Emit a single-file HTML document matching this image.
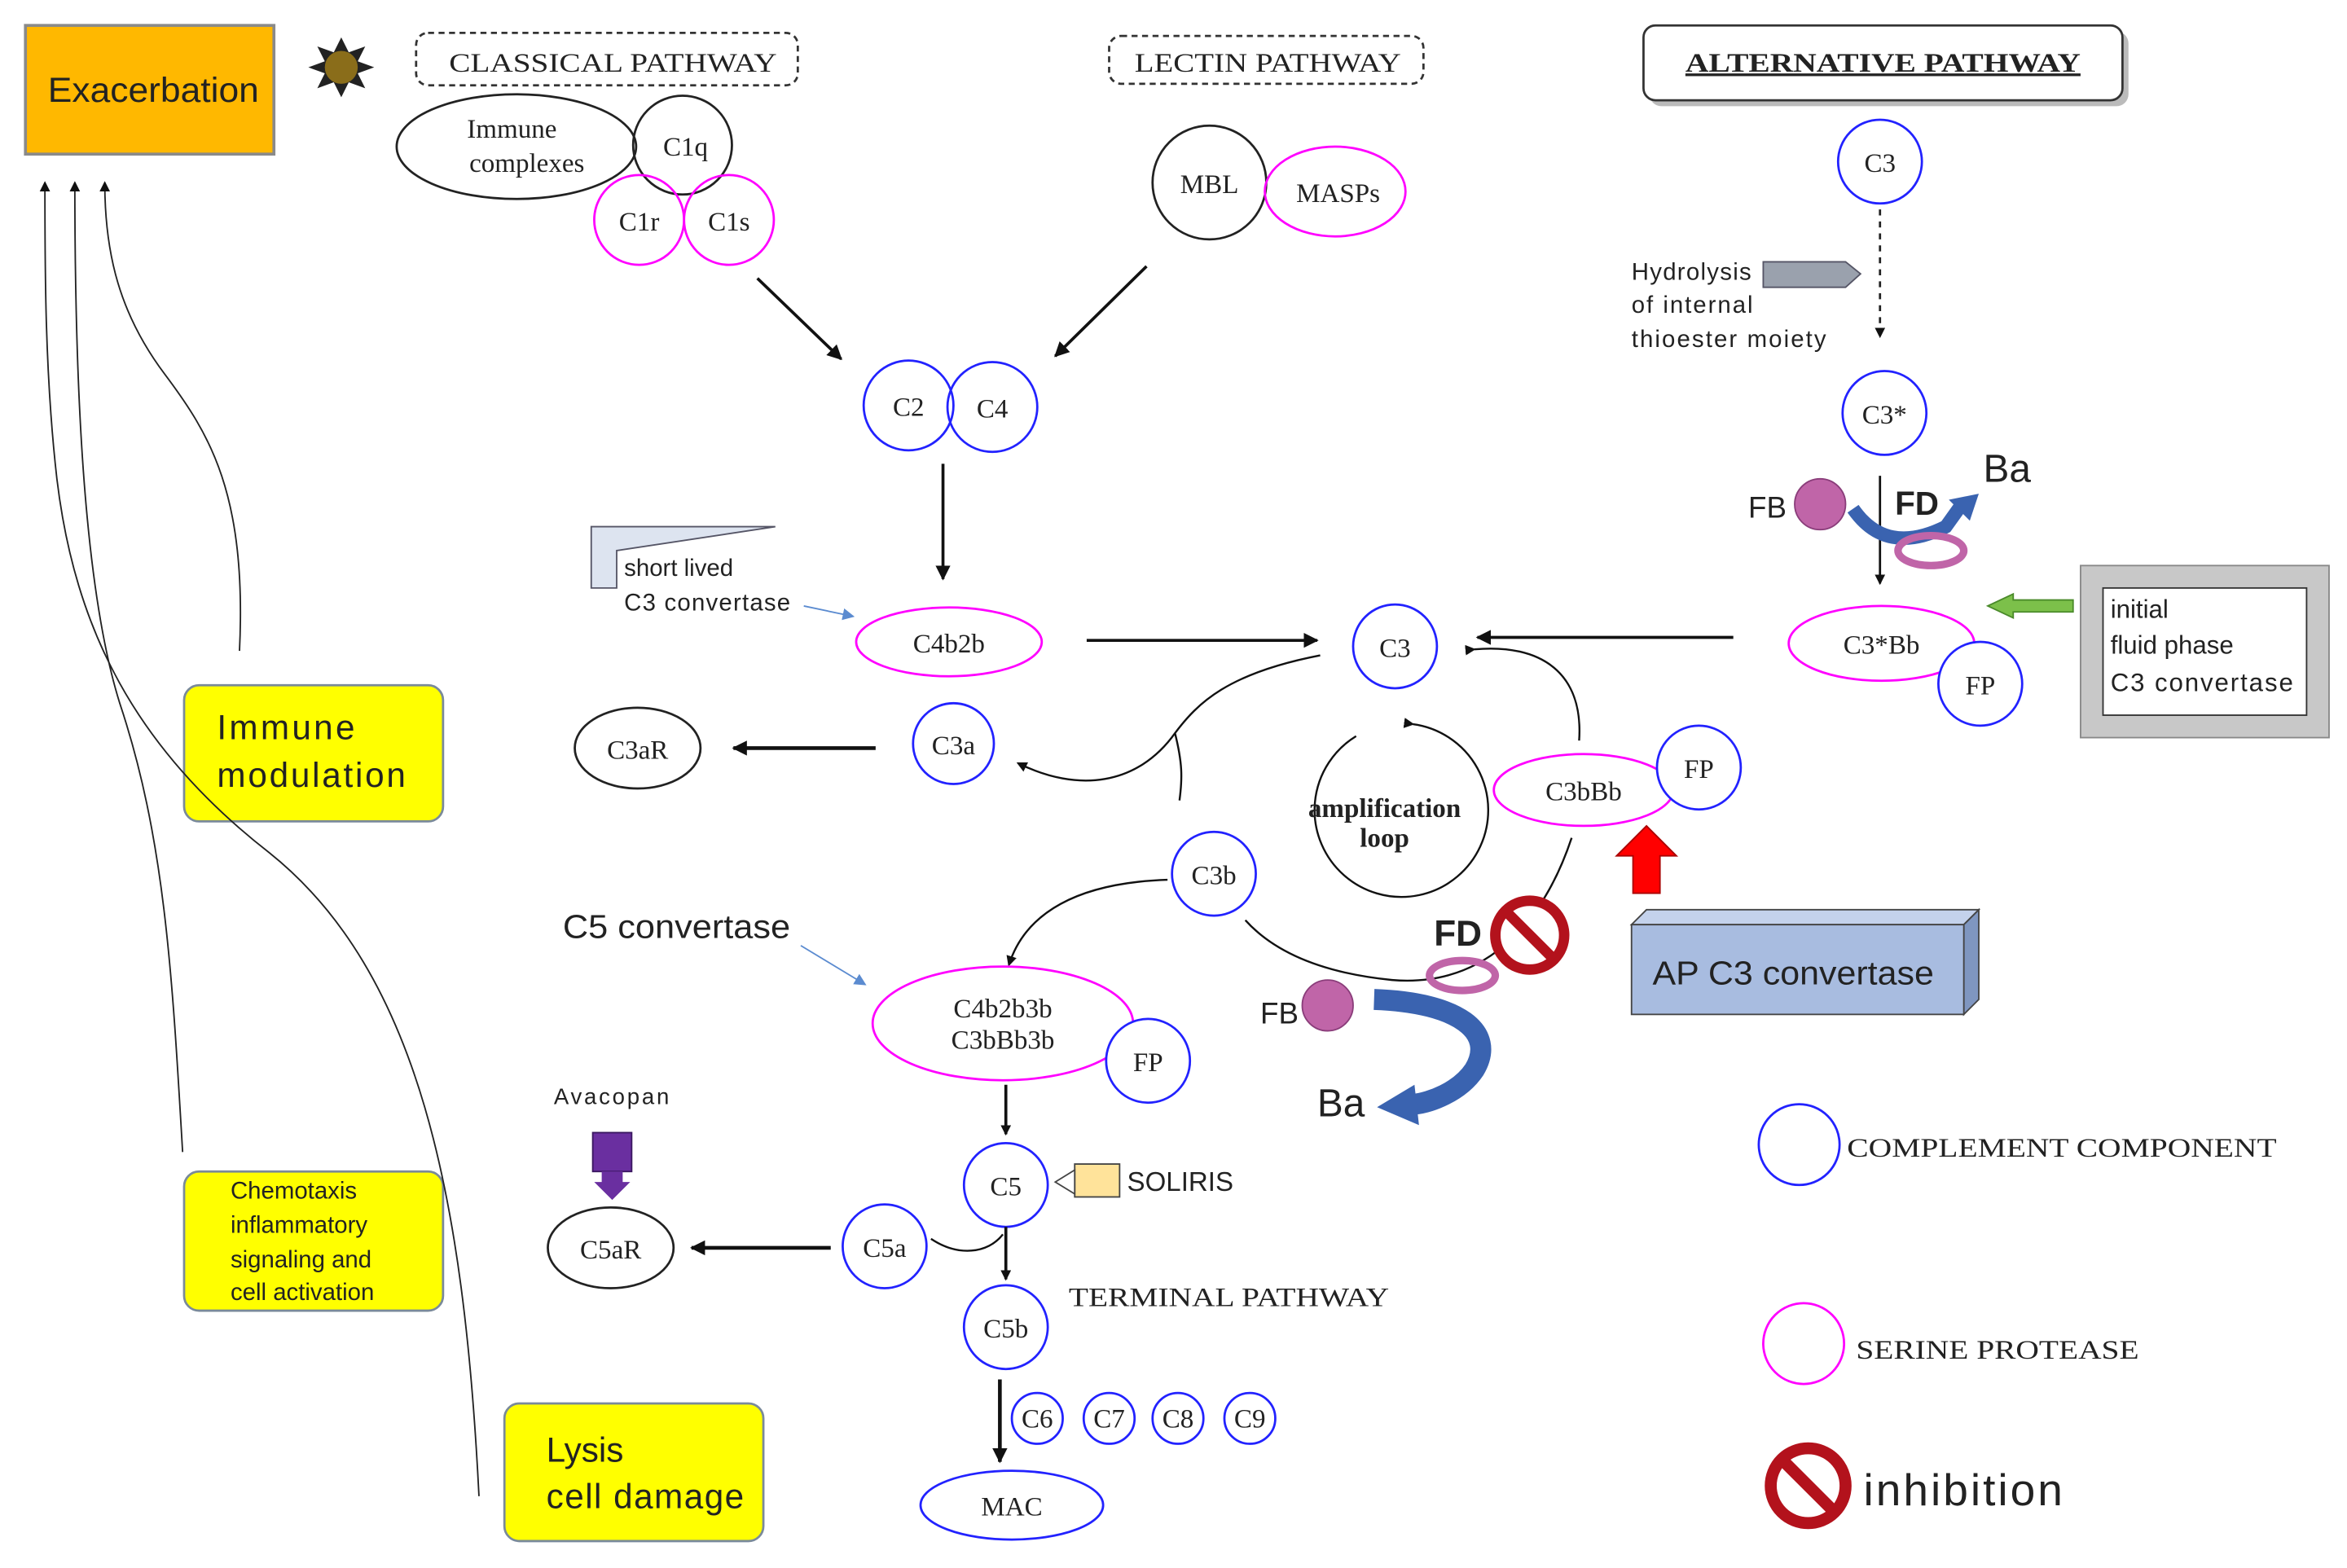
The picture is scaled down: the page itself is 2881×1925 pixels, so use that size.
<!DOCTYPE html>
<html><head><meta charset="utf-8"><style>
html,body{margin:0;padding:0;background:#fff;}
svg{display:block;}
.s{font-family:"Liberation Serif",serif;font-size:18px;fill:#222;}
.a{font-family:"Liberation Sans",sans-serif;fill:#222;}
</style></head><body>
<svg width="2881" height="1925" viewBox="0 0 1568 1048" preserveAspectRatio="none" xmlns="http://www.w3.org/2000/svg">
<defs>
<marker id="ar" markerWidth="10" markerHeight="10" refX="9" refY="5" orient="auto" markerUnits="userSpaceOnUse"><path d="M0,0 L10,5 L0,10 z" fill="#111"/></marker>
<marker id="sm" markerWidth="7" markerHeight="7" refX="6" refY="3.5" orient="auto" markerUnits="userSpaceOnUse"><path d="M0,0 L7,3.5 L0,7 z" fill="#111"/></marker>
<marker id="bl" markerWidth="8" markerHeight="8" refX="7" refY="4" orient="auto" markerUnits="userSpaceOnUse"><path d="M0,0 L8,4 L0,8 z" fill="#5b8bd0"/></marker>
</defs>
<rect width="1568" height="1048" fill="#fff"/>
<rect x="17" y="17" width="166" height="86" fill="#FFB800" stroke="#8a8a8a" stroke-width="2"/>
<text x="32" y="68" class="a" font-size="23" textLength="141" lengthAdjust="spacingAndGlyphs">Exacerbation</text>
<g transform="translate(228,45)">
<polygon points="0,-20 5,-10 16,-14 11,-4 22,0 11,4 16,14 5,10 0,20 -5,10 -16,14 -11,4 -22,0 -11,-4 -16,-14 -5,-10" fill="#222"/>
<circle r="11" fill="#8a6d1a"/></g>
<rect x="278" y="22" width="255" height="35" rx="8" fill="none" stroke="#333" stroke-dasharray="4,3" stroke-width="1.5"/>
<text x="300" y="48" class="s" font-size="20" textLength="219" lengthAdjust="spacingAndGlyphs">CLASSICAL PATHWAY</text>
<ellipse cx="345" cy="98" rx="80" ry="35" fill="none" stroke="#222" stroke-width="1.5"/>
<text x="342" y="92" class="s" text-anchor="middle">Immune</text>
<text x="352" y="115" class="s" text-anchor="middle">complexes</text>
<circle cx="456" cy="97" r="33" fill="none" stroke="#222" stroke-width="1.5"/>
<text x="458" y="104" class="s" text-anchor="middle">C1q</text>
<circle cx="427" cy="147" r="30" fill="none" stroke="#f0f" stroke-width="1.5"/>
<circle cx="487" cy="147" r="30" fill="none" stroke="#f0f" stroke-width="1.5"/>
<text x="427" y="154" class="s" text-anchor="middle">C1r</text>
<text x="487" y="154" class="s" text-anchor="middle">C1s</text>
<rect x="741" y="24" width="210" height="32" rx="8" fill="none" stroke="#333" stroke-dasharray="4,3" stroke-width="1.5"/>
<text x="758" y="48" class="s" font-size="20" textLength="178" lengthAdjust="spacingAndGlyphs">LECTIN PATHWAY</text>
<circle cx="808" cy="122" r="38" fill="none" stroke="#222" stroke-width="1.5"/>
<text x="808" y="129" class="s" text-anchor="middle">MBL</text>
<ellipse cx="892" cy="128" rx="47" ry="30" fill="none" stroke="#f0f" stroke-width="1.5"/>
<text x="894" y="135" class="s" text-anchor="middle">MASPs</text>
<rect x="1102" y="21" width="320" height="50" rx="8" fill="#bbb"/>
<rect x="1098" y="17" width="320" height="50" rx="8" fill="#fff" stroke="#333" stroke-width="1.5"/>
<text x="1126" y="48" class="s" font-size="19" font-weight="bold" text-decoration="underline" textLength="264" lengthAdjust="spacingAndGlyphs">ALTERNATIVE PATHWAY</text>
<circle cx="1256" cy="108" r="28" fill="none" stroke="#22f" stroke-width="1.5"/>
<text x="1256" y="115" class="s" text-anchor="middle">C3</text>
<line x1="1256" y1="140" x2="1256" y2="225" stroke="#222" stroke-dasharray="4,4" stroke-width="1.5" marker-end="url(#sm)"/>
<text class="a" font-size="16"><tspan x="1090" y="187" textLength="80">Hydrolysis</tspan><tspan x="1090" y="209" textLength="81">of internal</tspan><tspan x="1090" y="232" textLength="130">thioester moiety</tspan></text>
<polygon points="1178,175 1233,175 1243,183 1233,192 1178,192" fill="#9aa1ad" stroke="#556" stroke-width="1"/>
<circle cx="1259" cy="276" r="28" fill="none" stroke="#22f" stroke-width="1.5"/>
<text x="1259" y="283" class="s" text-anchor="middle">C3*</text>
<line x1="1256" y1="318" x2="1256" y2="390" stroke="#111" stroke-width="1.5" marker-end="url(#sm)"/>
<circle cx="1216" cy="337" r="17" fill="#c065a8" stroke="#8a3d7a"/>
<text x="1168" y="346" class="a" font-size="20">FB</text>
<path d="M1238,340 Q1260,372 1300,352 L1310,338" fill="none" stroke="#3a63b0" stroke-width="9"/>
<polygon points="1302,334 1322,330 1316,348" fill="#3a63b0"/>
<ellipse cx="1290" cy="368" rx="22" ry="10" fill="none" stroke="#c065a8" stroke-width="5"/>
<text x="1266" y="344" class="a" font-size="22" font-weight="bold">FD</text>
<text x="1325" y="322" class="a" font-size="26">Ba</text>
<ellipse cx="1257" cy="430" rx="62" ry="25" fill="#fff" stroke="#f0f" stroke-width="1.5"/>
<text x="1257" y="437" class="s" text-anchor="middle">C3*Bb</text>
<circle cx="1323" cy="457" r="28" fill="#fff" stroke="#22f" stroke-width="1.5"/>
<text x="1323" y="464" class="s" text-anchor="middle">FP</text>
<rect x="1390" y="378" width="166" height="115" fill="#c8c8c8" stroke="#888"/>
<rect x="1405" y="393" width="136" height="85" fill="#fff" stroke="#333"/>
<text class="a" font-size="17"><tspan x="1410" y="413">initial</tspan><tspan x="1410" y="437">fluid phase</tspan><tspan x="1410" y="462" textLength="122">C3 convertase</tspan></text>
<polygon points="1385,401 1345,401 1345,397 1328,405 1345,413 1345,409 1385,409" fill="#7cc04a" stroke="#4a8a2a"/>
<line x1="1158" y1="426" x2="987" y2="426" stroke="#111" stroke-width="2" marker-end="url(#ar)"/>
<circle cx="932" cy="432" r="28" fill="none" stroke="#22f" stroke-width="1.5"/>
<text x="932" y="439" class="s" text-anchor="middle">C3</text>
<circle cx="607" cy="271" r="30" fill="none" stroke="#22f" stroke-width="1.5"/>
<circle cx="663" cy="272" r="30" fill="none" stroke="#22f" stroke-width="1.5"/>
<text x="607" y="278" class="s" text-anchor="middle">C2</text>
<text x="663" y="279" class="s" text-anchor="middle">C4</text>
<line x1="506" y1="186" x2="562" y2="240" stroke="#111" stroke-width="2" marker-end="url(#ar)"/>
<line x1="766" y1="178" x2="705" y2="238" stroke="#111" stroke-width="2" marker-end="url(#ar)"/>
<line x1="630" y1="310" x2="630" y2="387" stroke="#111" stroke-width="2" marker-end="url(#ar)"/>
<polygon points="395,352 518,352 412,368 412,393 395,393" fill="#dde4f0" stroke="#556"/>
<text class="a" font-size="16"><tspan x="417" y="385">short lived</tspan><tspan x="417" y="408" textLength="111">C3 convertase</tspan></text>
<line x1="537" y1="405" x2="570" y2="412" stroke="#5b8bd0" stroke-width="1" marker-end="url(#bl)"/>
<ellipse cx="634" cy="429" rx="62" ry="23" fill="none" stroke="#f0f" stroke-width="1.5"/>
<text x="634" y="436" class="s" text-anchor="middle">C4b2b</text>
<line x1="726" y1="428" x2="880" y2="428" stroke="#111" stroke-width="2" marker-end="url(#ar)"/>
<circle cx="637" cy="497" r="27" fill="none" stroke="#22f" stroke-width="1.5"/>
<text x="637" y="504" class="s" text-anchor="middle">C3a</text>
<ellipse cx="426" cy="500" rx="42" ry="27" fill="none" stroke="#222" stroke-width="1.5"/>
<text x="426" y="507" class="s" text-anchor="middle">C3aR</text>
<line x1="585" y1="500" x2="490" y2="500" stroke="#111" stroke-width="2.5" marker-end="url(#ar)"/>
<path d="M882,438 C820,450 800,470 785,490 C760,525 720,530 680,510" fill="none" stroke="#111" stroke-width="1.3" marker-end="url(#sm)"/>
<path d="M785,490 C790,510 790,520 788,535" fill="none" stroke="#111" stroke-width="1.3"/>
<path d="M985,434 C1030,430 1058,450 1055,495" fill="none" stroke="#111" stroke-width="1.3" marker-start="url(#sm)"/>
<path d="M1050,560 C1030,620 990,660 930,655 C880,650 850,635 832,615" fill="none" stroke="#111" stroke-width="1.3"/>
<path d="M944,484 A58,58 0 1,1 906,492" fill="none" stroke="#111" stroke-width="1.3" marker-start="url(#sm)"/>
<text x="925" y="546" class="s" font-size="16" font-weight="bold" text-anchor="middle">amplification</text>
<text x="925" y="566" class="s" font-size="16" font-weight="bold" text-anchor="middle">loop</text>
<ellipse cx="1058" cy="528" rx="60" ry="24" fill="#fff" stroke="#f0f" stroke-width="1.5"/>
<text x="1058" y="535" class="s" text-anchor="middle">C3bBb</text>
<circle cx="1135" cy="513" r="28" fill="#fff" stroke="#22f" stroke-width="1.5"/>
<text x="1135" y="520" class="s" text-anchor="middle">FP</text>
<polygon points="1100,552 1120,572 1109,572 1109,597 1091,597 1091,572 1080,572" fill="#f00" stroke="#a00"/>
<polygon points="1090,618 1100,608 1322,608 1312,618" fill="#c4d2ec" stroke="#444"/>
<polygon points="1312,618 1322,608 1322,668 1312,678" fill="#7f96c0" stroke="#444"/>
<rect x="1090" y="618" width="222" height="60" fill="#a8bce0" stroke="#444"/>
<text x="1104" y="658" class="a" font-size="22" textLength="188" lengthAdjust="spacingAndGlyphs">AP C3 convertase</text>
<circle cx="811" cy="584" r="28" fill="#fff" stroke="#22f" stroke-width="1.5"/>
<text x="811" y="591" class="s" text-anchor="middle">C3b</text>
<path d="M780,588 C720,590 685,610 674,645" fill="none" stroke="#111" stroke-width="1.3" marker-end="url(#sm)"/>
<text x="376" y="627" class="a" font-size="22" textLength="152" lengthAdjust="spacingAndGlyphs">C5 convertase</text>
<line x1="535" y1="632" x2="578" y2="658" stroke="#5b8bd0" stroke-width="1" marker-end="url(#bl)"/>
<ellipse cx="670" cy="684" rx="87" ry="38" fill="none" stroke="#f0f" stroke-width="1.5"/>
<text x="670" y="680" class="s" text-anchor="middle">C4b2b3b</text>
<text x="670" y="701" class="s" text-anchor="middle">C3bBb3b</text>
<circle cx="767" cy="709" r="28" fill="#fff" stroke="#22f" stroke-width="1.5"/>
<text x="767" y="716" class="s" text-anchor="middle">FP</text>
<text x="958" y="632" class="a" font-size="24" font-weight="bold">FD</text>
<ellipse cx="977" cy="652" rx="22" ry="10" fill="none" stroke="#c065a8" stroke-width="5"/>
<g transform="translate(1022,625)"><circle r="23" fill="#fff" stroke="#b3121c" stroke-width="7"/><line x1="-16" y1="-16" x2="16" y2="16" stroke="#b3121c" stroke-width="7"/></g>
<circle cx="887" cy="672" r="17" fill="#c065a8" stroke="#8a3d7a"/>
<text x="842" y="684" class="a" font-size="20">FB</text>
<path d="M918,668 C975,670 1000,690 985,715 C975,730 955,737 945,738" fill="none" stroke="#3a63b0" stroke-width="14"/>
<polygon points="945,725 920,740 948,752" fill="#3a63b0"/>
<text x="880" y="746" class="a" font-size="26">Ba</text>
<line x1="672" y1="725" x2="672" y2="758" stroke="#111" stroke-width="2" marker-end="url(#sm)"/>
<circle cx="672" cy="792" r="28" fill="none" stroke="#22f" stroke-width="1.5"/>
<text x="672" y="799" class="s" text-anchor="middle">C5</text>
<rect x="718" y="778" width="30" height="22" fill="#ffe39a" stroke="#444"/>
<polygon points="705,790 718,782 718,798" fill="#fff" stroke="#444"/>
<text x="753" y="796" class="a" font-size="18" textLength="71">SOLIRIS</text>
<text x="370" y="738" class="a" font-size="15" textLength="77">Avacopan</text>
<rect x="396" y="757" width="26" height="26" fill="#6a2fa0" stroke="#3a1760"/>
<polygon points="402,783 416,783 416,790 421,790 409,802 397,790 402,790" fill="#6a2fa0"/>
<ellipse cx="408" cy="834" rx="42" ry="27" fill="none" stroke="#222" stroke-width="1.5"/>
<text x="408" y="841" class="s" text-anchor="middle">C5aR</text>
<circle cx="591" cy="833" r="28" fill="none" stroke="#22f" stroke-width="1.5"/>
<text x="591" y="840" class="s" text-anchor="middle">C5a</text>
<line x1="555" y1="834" x2="462" y2="834" stroke="#111" stroke-width="2.5" marker-end="url(#ar)"/>
<path d="M622,828 C640,840 660,838 670,825" fill="none" stroke="#111" stroke-width="1.3"/>
<line x1="672" y1="820" x2="672" y2="855" stroke="#111" stroke-width="2" marker-end="url(#sm)"/>
<circle cx="672" cy="887" r="28" fill="none" stroke="#22f" stroke-width="1.5"/>
<text x="672" y="894" class="s" text-anchor="middle">C5b</text>
<text x="714" y="873" class="s" textLength="214" lengthAdjust="spacingAndGlyphs">TERMINAL PATHWAY</text>
<g class="s" font-size="17" text-anchor="middle">
<circle cx="693" cy="948" r="17" fill="none" stroke="#22f" stroke-width="1.5"/><text x="693" y="954">C6</text>
<circle cx="741" cy="948" r="17" fill="none" stroke="#22f" stroke-width="1.5"/><text x="741" y="954">C7</text>
<circle cx="787" cy="948" r="17" fill="none" stroke="#22f" stroke-width="1.5"/><text x="787" y="954">C8</text>
<circle cx="835" cy="948" r="17" fill="none" stroke="#22f" stroke-width="1.5"/><text x="835" y="954">C9</text>
</g>
<line x1="668" y1="922" x2="668" y2="977" stroke="#111" stroke-width="2.5" marker-end="url(#ar)"/>
<ellipse cx="676" cy="1006" rx="61" ry="23" fill="none" stroke="#22f" stroke-width="1.5"/>
<text x="676" y="1013" class="s" text-anchor="middle">MAC</text>
<circle cx="1202" cy="765" r="27" fill="none" stroke="#22f" stroke-width="1.5"/>
<text x="1234" y="773" class="s" textLength="287" lengthAdjust="spacingAndGlyphs">COMPLEMENT COMPONENT</text>
<circle cx="1205" cy="898" r="27" fill="none" stroke="#f0f" stroke-width="1.5"/>
<text x="1240" y="908" class="s" textLength="189" lengthAdjust="spacingAndGlyphs">SERINE PROTEASE</text>
<g transform="translate(1208,993)"><circle r="25" fill="#fff" stroke="#b3121c" stroke-width="8"/><line x1="-17" y1="-17" x2="17" y2="17" stroke="#b3121c" stroke-width="8"/></g>
<text x="1245" y="1006" class="a" font-size="30" textLength="133">inhibition</text>
<rect x="123" y="458" width="173" height="91" rx="10" fill="#ffff00" stroke="#7a8a9a" stroke-width="1.5"/>
<text class="a" font-size="23"><tspan x="145" y="494" textLength="92">Immune</tspan><tspan x="145" y="526" textLength="126">modulation</tspan></text>
<rect x="123" y="783" width="173" height="93" rx="10" fill="#ffff00" stroke="#7a8a9a" stroke-width="1.5"/>
<text class="a" font-size="16"><tspan x="154" y="801">Chemotaxis</tspan><tspan x="154" y="824">inflammatory</tspan><tspan x="154" y="847">signaling and</tspan><tspan x="154" y="869">cell activation</tspan></text>
<rect x="337" y="938" width="173" height="92" rx="10" fill="#ffff00" stroke="#7a8a9a" stroke-width="1.5"/>
<text class="a" font-size="23"><tspan x="365" y="977">Lysis</tspan><tspan x="365" y="1008" textLength="132">cell damage</tspan></text>
<path d="M160,435 C165,330 140,290 110,250 C80,210 70,170 70,122" fill="none" stroke="#222" stroke-width="1" marker-end="url(#sm)"/>
<path d="M122,770 C115,650 110,560 80,470 C55,390 50,250 50,122" fill="none" stroke="#222" stroke-width="1" marker-end="url(#sm)"/>
<path d="M320,1000 C310,800 280,650 180,570 C90,500 50,420 38,320 C30,250 30,180 30,122" fill="none" stroke="#222" stroke-width="1" marker-end="url(#sm)"/>
</svg>
</body></html>
